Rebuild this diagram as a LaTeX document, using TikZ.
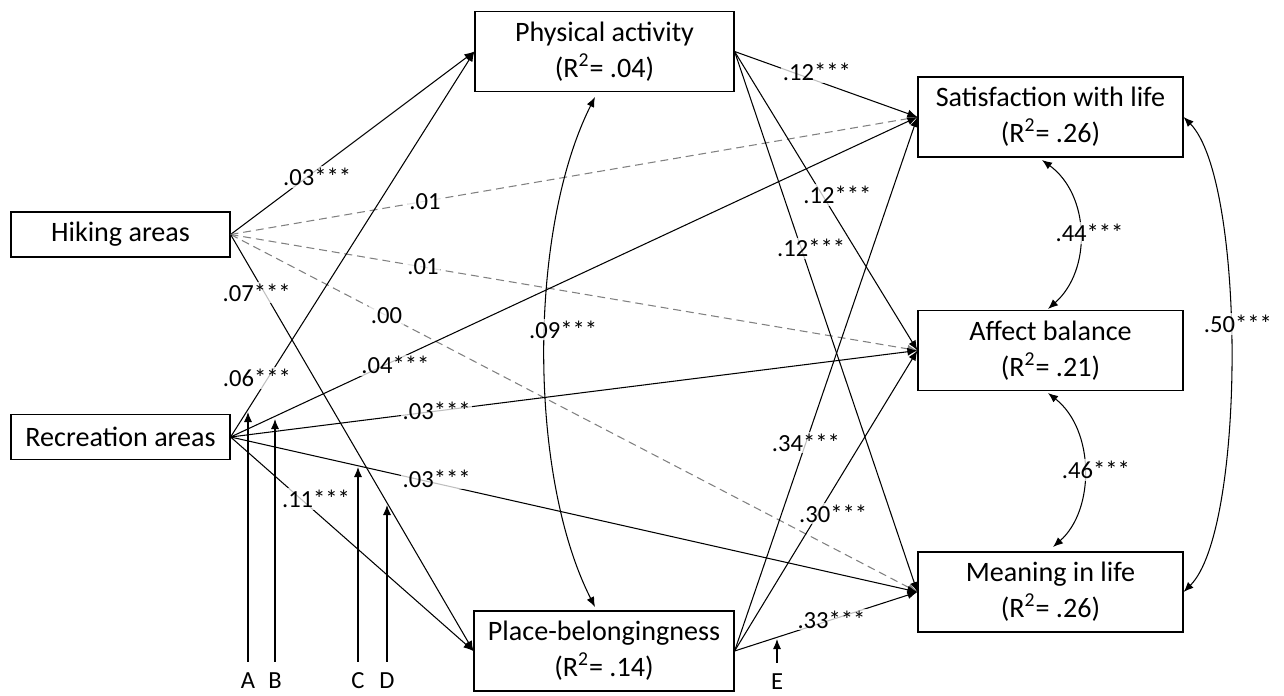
\documentclass[tikz,border=0pt]{standalone}
\usepackage{fontspec}
\setmainfont{Carlito}
\usepackage{tikz}
\usetikzlibrary{arrows.meta}

\begin{document}
\begin{tikzpicture}[x=0.02cm, y=-0.02cm,
		box/.style={draw, line width=0.7pt, align=center, inner sep=0pt, font=\fontsize{16}{20.5}\selectfont},
		eff/.style={line width=0.6pt, -{Latex[length=2mm,width=1.6mm]}},
		ns/.style={eff, gray, dash pattern=on 4.5pt off 2.8pt},
		cov/.style={line width=0.6pt, {Latex[length=2mm,width=1.6mm]}-{Latex[length=2mm,width=1.6mm]}},
		coef/.style={font=\fontsize{14}{16}\selectfont, fill=white, fill opacity=0.75, text opacity=1, inner sep=1pt},
		errlab/.style={font=\fontsize{14}{16}\selectfont, inner sep=1pt, outer sep=5.5pt}]
		\useasboundingbox (0,0) rectangle (1284,696);

		% Exogenous variables
		\node[box, minimum width=4.38cm, minimum height=0.9cm] (hik) at (120.5,234.5) {Hiking areas};
		\node[box, minimum width=4.38cm, minimum height=0.9cm] (rec) at (120.5,437) {Recreation areas};

		% Mediators
		\node[box, minimum width=5.18cm, minimum height=1.6cm] (pa) at (604.5,51.5) {Physical activity\\(R\textsuperscript{2}= .04)};
		\node[box, minimum width=5.2cm, minimum height=1.6cm] (pb) at (604,651) {Place-belongingness\\(R\textsuperscript{2}= .14)};

		% Outcomes
		\node[box, minimum width=5.3cm, minimum height=1.6cm] (sat) at (1050.5,117) {Satisfaction with life\\(R\textsuperscript{2}= .26)};
		\node[box, minimum width=5.3cm, minimum height=1.6cm] (aff) at (1050.5,350.5) {Affect balance\\(R\textsuperscript{2}= .21)};
		\node[box, minimum width=5.3cm, minimum height=1.6cm] (mea) at (1050.5,592) {Meaning in life\\(R\textsuperscript{2}= .26)};

		% Paths from hiking areas
		\draw[eff] (hik.east) -- node[coef, pos=.355, yshift=-0.15cm] {.03***} (pa.west);
		\draw[ns] (hik.east) -- node[coef, pos=.283, text=black] {.01} (sat.west);
		\draw[ns] (hik.east) -- node[coef, pos=.28, text=black] {.01} (aff.west);
		\draw[ns] (hik.east) -- node[coef, pos=.227, text=black] {.00} (mea.west);
		\draw[eff] (hik.east) -- node[coef, pos=.14, xshift=-0.16cm] {.07***} (pb.west);

		% Paths from recreation areas
		\draw[eff] (rec.east) -- node[coef, pos=.153, xshift=-0.22cm] {.06***} (pa.west);
		\draw[eff] (rec.east) -- node[coef, pos=.24, yshift=-0.1cm] {.04***} (sat.west);
		\draw[eff] (rec.east) -- node[coef, pos=.3] {.03***} (aff.west);
		\draw[eff] (rec.east) -- node[coef, pos=.3, yshift=0.1cm] {.03***} (mea.west);
		\draw[eff] (rec.east) -- node[coef, pos=.29, xshift=0.3cm] {.11***} (pb.west);

		% Paths from physical activity
		\draw[eff] (pa.east) -- node[coef, pos=.45, yshift=0.18cm] {.12***} (sat.west);
		\draw[eff] (pa.east) -- node[coef, pos=.48, xshift=0.3cm] {.12***} (aff.west);
		\draw[eff] (pa.east) -- node[coef, pos=.364, xshift=0.2cm] {.12***} (mea.west);

		% Paths from place-belongingness
		\draw[eff] (pb.east) -- node[coef, pos=.39] {.34***} (sat.west);
		\draw[eff] (pb.east) -- node[coef, pos=.457, xshift=0.3cm] {.30***} (aff.west);
		\draw[eff] (pb.east) -- node[coef, pos=.53] {.33***} (mea.west);

		% Covariances
		\draw[cov] (595,97) .. controls (528,230) and (528,475) .. node[coef, pos=.46, xshift=0.36cm] {.09***} (595,607);
		\draw[cov] (1042,160) .. controls (1090,195) and (1092,270) .. node[coef, pos=.5, xshift=0.2cm] {.44***} (1048,309);
		\draw[cov] (1048,393) .. controls (1095,430) and (1095,510) .. node[coef, pos=.5, xshift=0.24cm] {.46***} (1053,547);
		\draw[cov] (sat.east) .. controls (1246,180) and (1246,530) .. node[coef, pos=.45, xshift=0.16cm] {.50***} (mea.east);

		% Error terms
		\node[errlab] (eA) at (248,681) {A};
		\node[errlab] (eB) at (275,681) {B};
		\node[errlab] (eC) at (358,681) {C};
		\node[errlab] (eD) at (387,681) {D};
		\node[errlab] (eE) at (777,682) {E};
		\coordinate (tA) at (248,412);
		\coordinate (tB) at (275,419);
		\coordinate (tC) at (358,467);
		\coordinate (tD) at (387,505);
		\coordinate (tE) at (777,639);
		\foreach \e in {A,B,C,D,E}
			\draw[eff] (e\e) -- (t\e);
	\end{tikzpicture}
\end{document}
